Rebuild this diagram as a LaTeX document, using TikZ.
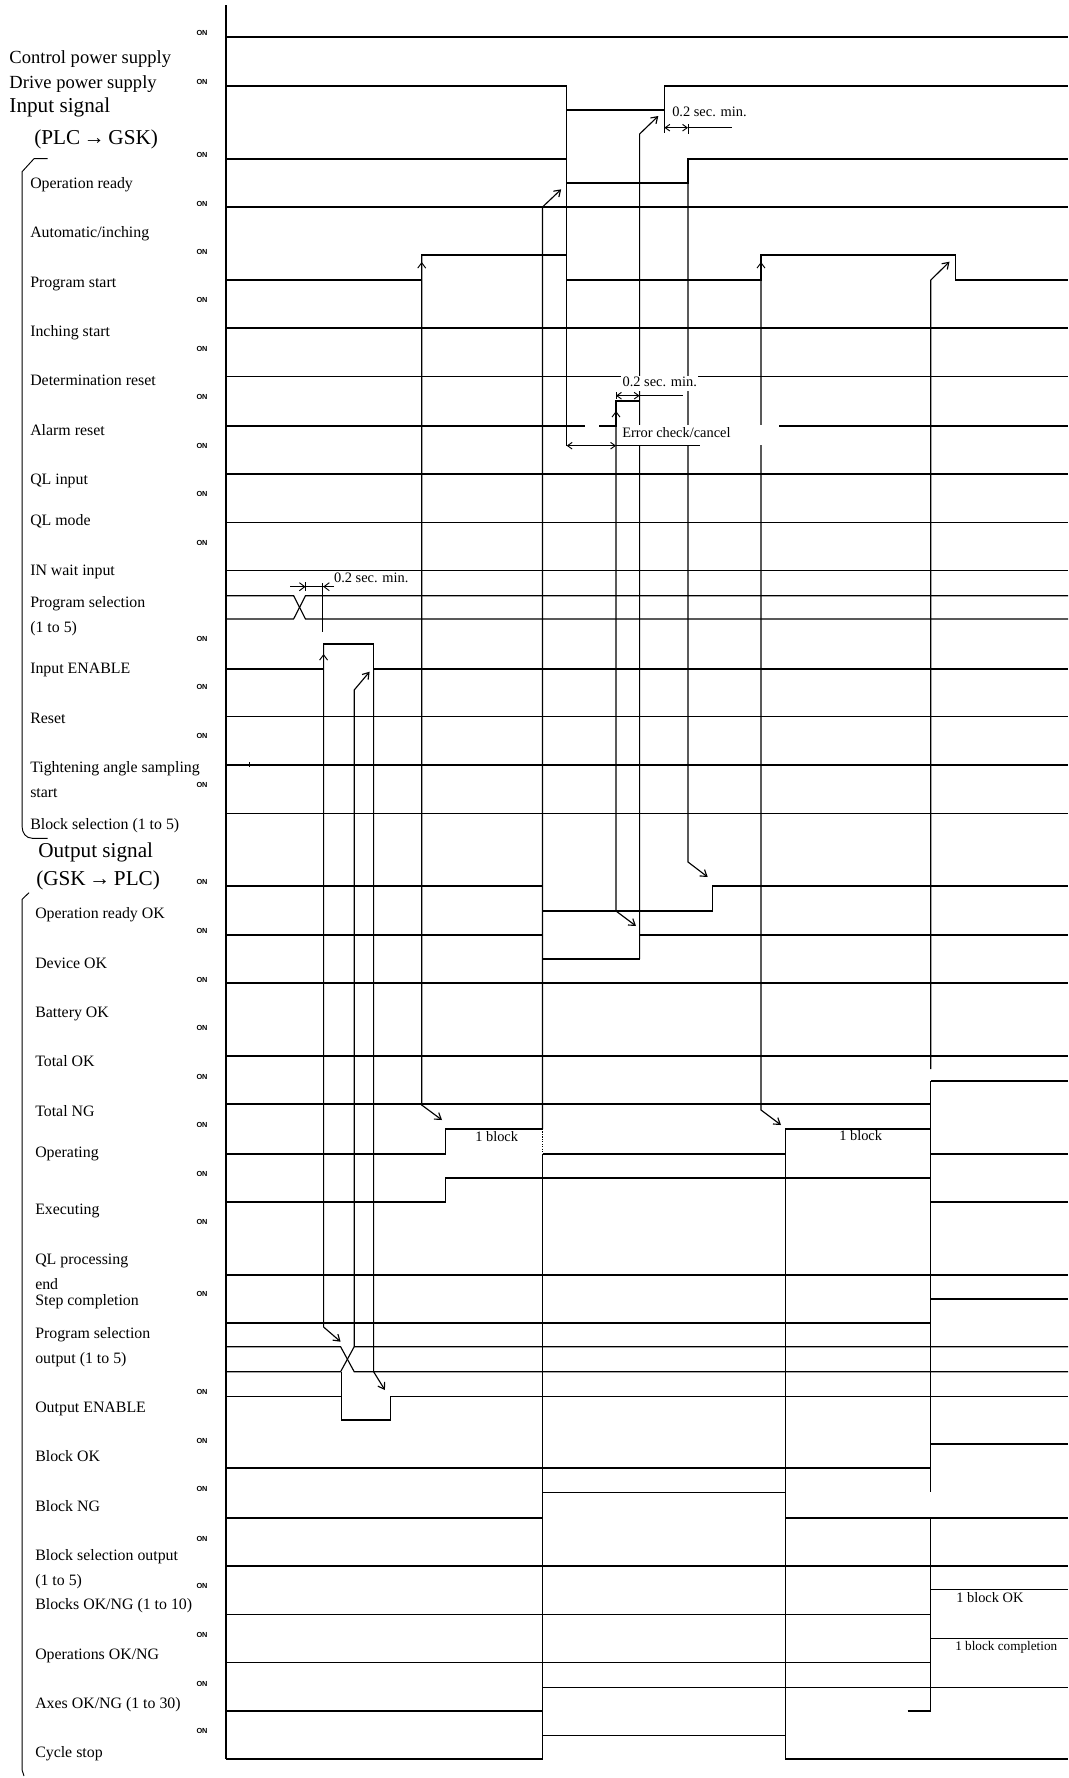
\documentclass[tikz,border=0pt]{standalone}
\usepackage{fontspec}
\setmainfont{Liberation Serif}
\newfontfamily\onfont{Liberation Sans}
\usetikzlibrary{arrows.meta}
\begin{document}
\begin{tikzpicture}[x=0.75pt,y=-0.75pt,
  s/.style={line width=0.85pt},
  thinl/.style={line width=0.7pt},
  arr/.style={line width=0.85pt,-{Straight Barb[length=4.5pt,width=6pt]}},
  tip/.style={line width=0.7pt,-{Straight Barb[length=4pt,width=6pt]}},
  dima/.style={line width=0.7pt,{Straight Barb[length=3.5pt,width=5pt]}-{Straight Barb[length=3.5pt,width=5pt]}},
  lb/.style={anchor=west,inner sep=0pt,font=\fontsize{11.9}{13}\selectfont,text height=8.1pt,text depth=2.4pt},
  mid/.style={anchor=west,inner sep=0pt,font=\fontsize{13.9}{15}\selectfont,text height=9.5pt,text depth=2.8pt},
  big/.style={anchor=west,inner sep=0pt,font=\fontsize{15.9}{17}\selectfont,text height=10.8pt,text depth=3.2pt},
  note/.style={anchor=west,inner sep=0pt,font=\fontsize{10.8}{12}\selectfont,text height=7.4pt,text depth=2.2pt},
  on/.style={inner sep=0pt,font=\onfont\bfseries\fontsize{5.5}{6}\selectfont}]
\useasboundingbox (0,0) rectangle (1068,1778);
\fill[white] (0,0) rectangle (1068,1778);

% axis
\draw[s] (226,5) -- (226,1759);

% ---------- input signals ----------
\draw[s] (226,37) -- (1068,37);
\draw[s] (226,86) -- (566.7,86) -- (566.7,110) -- (664.4,110) -- (664.4,86) -- (1068,86);
\draw[s] (566.7,110) -- (566.7,445.7);
\draw[s] (664.4,110) -- (664.4,133);
\draw[s] (226,159) -- (566.7,159);
\draw[s] (566.7,183) -- (688,183) -- (688,159) -- (1068,159);
\draw[s] (226,207) -- (1068,207);
\draw[s] (226,280) -- (421.7,280) -- (421.7,255) -- (566.7,255);
\draw[s] (566.7,280) -- (761,280) -- (761,255) -- (955.7,255) -- (955.7,280) -- (1068,280);
\draw[s] (226,328) -- (1068,328);
\draw[s] (226,376.7) -- (1068,376.7);
\draw[s] (226,426) -- (585,426);
\draw[s] (599,426) -- (616,426) -- (616,401) -- (639.6,401) -- (639.6,426) -- (1068,426);
\draw[s] (226,474) -- (1068,474);
\draw[s] (226,522.3) -- (1068,522.3);
\draw[s] (226,570.7) -- (1068,570.7);
\draw[s] (226,595.7) -- (293.6,595.7) -- (305.5,619) -- (1068,619);
\draw[s] (226,619) -- (293.6,619) -- (305.5,595.7) -- (1068,595.7);
\draw[s] (226,669) -- (323.6,669) -- (323.6,644) -- (373.6,644) -- (373.6,669) -- (1068,669);
\draw[s] (226,716.7) -- (1068,716.7);
\draw[s] (226,765) -- (1068,765);
\draw[thinl] (249.7,762) -- (249.7,767);
\draw[s] (226,813.3) -- (1068,813.3);

% ---------- output signals ----------
\draw[s] (226,886) -- (542.5,886);
\draw[s] (542.5,911) -- (712.8,911) -- (712.8,886) -- (1068,886);
\draw[s] (226,935) -- (542.5,935);
\draw[s] (542.5,959) -- (639.6,959) -- (639.6,935) -- (1068,935);
\draw[s] (226,983) -- (1068,983);
\draw[s] (226,1056) -- (1068,1056);
\draw[s] (226,1104) -- (930.8,1104);
\draw[s] (930.8,1081) -- (1068,1081);
\draw[s] (226,1154) -- (445.2,1154) -- (445.2,1129) -- (542.5,1129);
\draw[s] (542.5,1154) -- (785.4,1154);
\draw[s] (785.4,1129) -- (930.8,1129);
\draw[s] (930.8,1154) -- (1068,1154);
\draw[s] (226,1202) -- (445.2,1202) -- (445.2,1178) -- (930.8,1178);
\draw[s] (930.8,1202) -- (1068,1202);
\draw[s] (226,1275) -- (1068,1275);
\draw[s] (226,1323) -- (930.8,1323);
\draw[s] (930.8,1299) -- (1068,1299);
\draw[s] (226,1346.7) -- (340.6,1346.7) -- (354.2,1371.7) -- (1068,1371.7);
\draw[s] (226,1371.7) -- (340.6,1371.7) -- (354.2,1346.7) -- (1068,1346.7);
\draw[s] (226,1396.7) -- (341.3,1396.7);
\draw[s] (341.3,1371.7) -- (341.3,1420) -- (390.7,1420) -- (390.7,1396.7) -- (1068,1396.7);
\draw[s] (226,1468) -- (930.8,1468);
\draw[s] (930.8,1444) -- (1068,1444);
\draw[s] (226,1518) -- (542.5,1518);
\draw[s] (542.5,1492.7) -- (785.4,1492.7);
\draw[s] (785.4,1518) -- (1068,1518);
\draw[s] (226,1566) -- (1068,1566);
\draw[s] (226,1614.3) -- (930.8,1614.3);
\draw[s] (930.8,1589.3) -- (1068,1589.3);
\draw[s] (226,1662.3) -- (930.8,1662.3);
\draw[s] (930.8,1638.3) -- (1068,1638.3);
\draw[s] (226,1711) -- (542.5,1711);
\draw[s] (542.5,1687.7) -- (1068,1687.7);
\draw[s] (907.6,1711) -- (930.8,1711);
\draw[s] (226,1759) -- (542.5,1759);
\draw[s] (542.5,1735.7) -- (785.4,1735.7);
\draw[s] (785.4,1759) -- (1068,1759);

% long verticals / connectors
\draw[arr] (542.5,1129) -- (542.5,207) -- (561.2,189.3);
\draw[s,densely dotted] (542.5,1129) -- (542.5,1154);
\draw[s] (542.5,1154) -- (542.5,1759);
\draw[arr] (639.6,959) -- (639.6,134) -- (658.3,116);
\draw[arr] (421.7,255) -- (421.7,1105) -- (442,1120);
\draw[arr] (761,255) -- (761,1110) -- (781,1125);
\draw[arr] (930.8,1069) -- (930.8,280) -- (949.5,261.7);
\draw[arr] (323.6,644) -- (323.6,1327) -- (340.6,1341.7);
\draw[arr] (354.2,1346.7) -- (354.2,690) -- (369.6,671.7);
\draw[arr] (373.6,669) -- (373.6,1371.7) -- (384.9,1390);
\draw[arr] (688,183) -- (688,862) -- (707.7,877);
\draw[arr] (616,426) -- (616,911) -- (636,926);
\draw[s] (785.4,1129) -- (785.4,1759);
\draw[s] (930.8,1081) -- (930.8,1492);
\draw[s] (930.8,1518) -- (930.8,1711);

% rising-edge marks
\draw[tip] (421.7,277) -- (421.7,262);
\draw[tip] (761,277) -- (761,262);
\draw[tip] (323.6,667) -- (323.6,654);
\draw[tip] (616,424) -- (616,411);

% dimensions
\draw[dima] (664.4,127.7) -- (688,127.7);
\draw[thinl] (688,127.7) -- (731.5,127.7);
\draw[thinl] (688,124) -- (688,134);
\node[note] (d1) at (672,113) {0.2 sec. min.};

\node[note,fill=white,inner sep=1pt] (d2) at (621,383.3) {0.2 sec. min.};
\draw[dima] (616,395.7) -- (639.6,395.7);
\draw[thinl] (639.6,395.7) -- (683,395.7);
\draw[thinl] (616,392) -- (616,399);

\fill[white] (617.5,424.6) rectangle (779,444.6);
\node[note] (err) at (622,434.3) {Error check/cancel};
\draw[dima] (566.7,445.7) -- (616,445.7);
\draw[thinl] (616,445.7) -- (700,445.7);

\draw[thinl] (293.6,586.7) -- (332,586.7);
\draw[tip] (290,586.7) -- (305.5,586.7);
\draw[tip] (334,586.7) -- (323.2,586.7);
\draw[thinl] (305.5,582) -- (305.5,591);
\draw[thinl] (322.9,583) -- (322.9,632);
\node[note] (d3) at (333.8,579.3) {0.2 sec. min.};

% annotations
\node[note] (b1) at (475,1138.3) {1 block};
\node[note] (b2) at (839,1137) {1 block};
\node[note] (b3) at (956,1599.3) {1 block OK};
\node[note,font=\fontsize{9.9}{11}\selectfont] (b4) at (955,1646.7) {1 block completion};

% brackets
\draw[thinl] (47.7,158.7) -- (34,158.7) -- (22.1,171.7) -- (22.1,826.7) .. controls (22.1,833) and (26,838.3) .. (32.4,838.3) -- (47.7,838.3);
\draw[thinl] (29,892.7) -- (22.1,899.3) -- (22.1,1770) -- (24,1776);

% headings
\node[mid] (h1) at (9.2,59) {Control power supply};
\node[mid] (h2) at (9.2,84) {Drive power supply};
\node[big] (h3) at (9.2,107) {Input signal};
\node[big] (h4) at (34,139) {(PLC\,→\,GSK)};
\node[big] (h5) at (38,852) {Output signal};
\node[big] (h6) at (36,880) {(GSK\,→\,PLC)};

% input labels
\node[lb] (i1) at (30,185) {Operation ready};
\node[lb] (i2) at (30,234) {Automatic/inching};
\node[lb] (i3) at (30,284) {Program start};
\node[lb] (i4) at (30,333) {Inching start};
\node[lb] (i5) at (30,382) {Determination reset};
\node[lb] (i6) at (30,432) {Alarm reset};
\node[lb] (i7) at (30,481) {QL input};
\node[lb] (i8) at (30,522) {QL mode};
\node[lb] (i9) at (30,572) {IN wait input};
\node[lb] (i10) at (30,604) {Program selection};
\node[lb] (i11) at (30,629) {(1 to 5)};
\node[lb] (i12) at (30,670) {Input ENABLE};
\node[lb] (i13) at (30,720) {Reset};
\node[lb] (i14) at (30,769) {Tightening angle sampling};
\node[lb] (i15) at (30,794) {start};
\node[lb] (i16) at (30,826) {Block selection (1 to 5)};

% output labels
\node[lb] (o1) at (35,915) {Operation ready OK};
\node[lb] (o2) at (35,965) {Device OK};
\node[lb] (o3) at (35,1014) {Battery OK};
\node[lb] (o4) at (35,1063) {Total OK};
\node[lb] (o5) at (35,1113) {Total NG};
\node[lb] (o6) at (35,1154) {Operating};
\node[lb] (o7) at (35,1211) {Executing};
\node[lb] (o8) at (35,1261) {QL processing};
\node[lb] (o9) at (35,1286) {end};
\node[lb] (o10) at (35,1302) {Step completion};
\node[lb] (o11) at (35,1335) {Program selection};
\node[lb] (o12) at (35,1360) {output (1 to 5)};
\node[lb] (o13) at (35,1409) {Output ENABLE};
\node[lb] (o14) at (35,1458) {Block OK};
\node[lb] (o15) at (35,1508) {Block NG};
\node[lb] (o16) at (35,1557) {Block selection output};
\node[lb] (o17) at (35,1582) {(1 to 5)};
\node[lb] (o18) at (35,1606) {Blocks OK/NG (1 to 10)};
\node[lb] (o19) at (35,1656) {Operations OK/NG};
\node[lb] (o20) at (35,1705) {Axes OK/NG (1 to 30)};
\node[lb] (o21) at (35,1754) {Cycle stop};

% ON marks
\foreach \yy [count=\k] in {33,82,155,204,252,300,349,397,446,494,543,639,687,736,785,
  882,931,980,1028,1077,1125,1174,1222,1294,1392,1441,1489,1539,1586,1635,1684,1731}
  \node[on] (on\k) at (202,\yy) {ON};
\end{tikzpicture}
\end{document}
